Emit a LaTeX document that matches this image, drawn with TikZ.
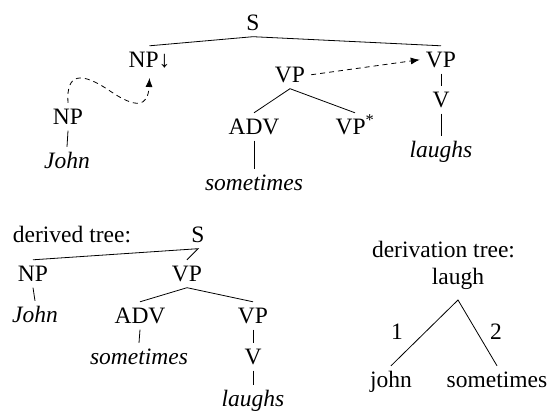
\documentclass[tikz,border=0pt]{standalone}
\usepackage{fontspec}
\setmainfont{Liberation Serif}
\usetikzlibrary{arrows.meta,calc}
\newcommand{\treefont}{\fontsize{23.5}{28}\selectfont}
\tikzset{
  lbl/.style={anchor=base, inner xsep=6pt, inner ysep=5.5pt,
    text height=16.5pt, text depth=0pt},
  leaf/.style={lbl, font=\treefont\itshape},
  plain/.style={anchor=base, inner sep=0pt},
  branch/.style={line width=0.8pt},
  link/.style={line width=0.8pt, dash pattern=on 5pt off 4pt,
    -{Latex[length=9pt,width=7pt]}},
}
\begin{document}
\begin{tikzpicture}[x=1pt, y=-1pt, font=\treefont]
\useasboundingbox (0,0) rectangle (550,411);

% elementary trees
\node[lbl] (S)   at (253,31)  {S};
\node[lbl] (NPd) at (149.5,68) {NP↓};
\node[lbl] (VPr) at (441,68)  {VP};
\node[lbl] (V1)  at (441,108) {V};
\node[leaf] (laughsA) at (441,158) {laughs};
\node[lbl] (NPl) at (68,125)  {NP};
\node[leaf] (johnA) at (67,169) {John};
\node[lbl] (VPm) at (290,83)  {VP};
\node[lbl] (ADVa) at (254,135) {ADV};
\node[lbl] (VPs) at (355,135) {VP\textsuperscript{*}};
\node[leaf] (someA) at (254,191) {sometimes};

\draw[branch] (NPd.north) -- (S.south) -- (VPr.north);
\draw[branch] (VPr.south) -- (V1.north);
\draw[branch] (V1.south) -- (laughsA.north);
\draw[branch] (NPl.south) -- (johnA.north);
\draw[branch] (ADVa.north) -- (VPm.south) -- (VPs.north);
\draw[branch] (ADVa.south) -- (someA.north);

% substitution and adjunction
\coordinate (subst) at ($(NPd.base)+(0,10)$);
\draw[link] (NPl.north) .. controls (66,72) and (82,72) .. (110,91)
  .. controls (135,108) and (148,108) .. (subst);
\draw[link] (VPm.east) -- (VPr.west);

% derived tree
\node[plain] (dtl) at (72,243) {derived tree:};
\node[lbl] (S2)  at (198,243) {S};
\node[lbl] (NP2) at (33,282)  {NP};
\node[lbl] (VP2) at (187,282) {VP};
\node[leaf] (john2) at (35,323) {John};
\node[lbl] (ADV2) at (140,324) {ADV};
\node[lbl] (VP3) at (253,324) {VP};
\node[leaf] (some2) at (139,365) {sometimes};
\node[lbl] (V2)  at (253,365) {V};
\node[leaf] (laughs2) at (253,407) {laughs};

\draw[branch] (NP2.north) -- (S2.south) -- (VP2.north);
\draw[branch] (NP2.south) -- (john2.north);
\draw[branch] (ADV2.north) -- (VP2.south) -- (VP3.north);
\draw[branch] (ADV2.south) -- (some2.north);
\draw[branch] (VP3.south) -- (V2.north);
\draw[branch] (V2.south) -- (laughs2.north);

% derivation tree
\node[plain] (dvl) at (443.5,258) {derivation tree:};
\node[plain] (laugh) at (458,285) {laugh};
\node[lbl] (john3) at (391,388) {john};
\node[lbl] (some3) at (497,388) {sometimes};
\node[plain] (one) at (397,340) {1};
\node[plain] (two) at (496,340) {2};
\coordinate (top) at ($(laugh.base)+(0,15)$);
\draw[branch] (john3.north) -- (top) -- (some3.north);
\end{tikzpicture}
\end{document}
